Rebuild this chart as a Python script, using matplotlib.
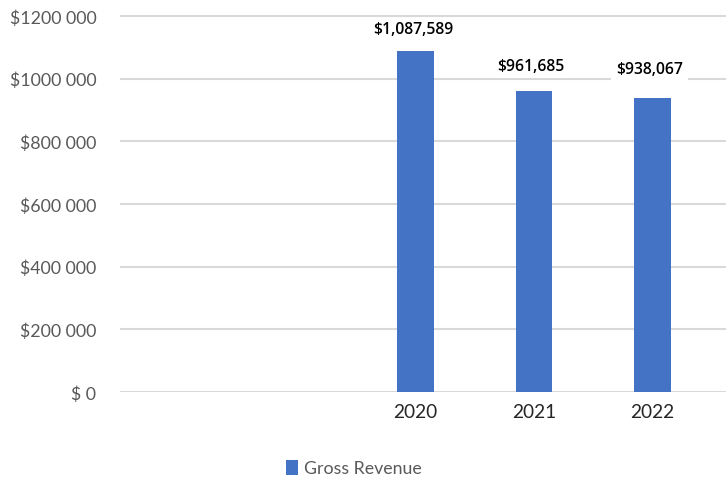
import matplotlib.pyplot as plt
import numpy as np

# gross revenue per year, two leading empty category slots
years = ["", "", "2020", "2021", "2022"]
revenue = [np.nan, np.nan, 1087589, 961685, 938067]
value_labels = ["", "", "$1,087,589", "$961,685", "$938,067"]
ytick_vals = [0, 200000, 400000, 600000, 800000, 1000000, 1200000]
ytick_text = ["$ 0", "$200 000", "$400 000", "$600 000", "$800 000", "$1000 000", "$1200 000"]

BAR_COLOR = "#4472C4"
GRID_COLOR = "#D9D9D9"
TICK_GRAY = "#595959"

fig = plt.figure(figsize=(7.26, 4.81), dpi=100)
W, H = 726, 481
px_per_val = 376 / 1200000
top_val = 1210000
top_px = 393 - top_val * px_per_val
ax = fig.add_axes([120 / W, 1 - 393 / H, 1 - 120 / W, (393 - top_px) / H])

x = np.arange(len(years))
bars = ax.bar(x, revenue, width=0.31, color=BAR_COLOR, zorder=3)

ax.set_xlim(-0.5, -0.5 + 606 / 118.3)
ax.set_ylim(0, top_val)

for v in ytick_vals:
    ax.axhline(v, color=GRID_COLOR, lw=1.5, zorder=1)

for sp in ax.spines.values():
    sp.set_visible(False)

ax.set_yticks(ytick_vals)
ax.set_yticklabels(ytick_text, fontsize=12.8, color=TICK_GRAY, family="Lato")
ax.set_xticks(x)
ax.set_xticklabels(years, fontsize=13.8, color="#262626", family="Lato")
ax.tick_params(axis="y", length=0, pad=17)
ax.tick_params(axis="x", length=0, pad=8)

# value labels on white boxes above each bar
offsets = [0, 0, 16, 18, 21]
pads = [0, 0, 0.12, 0.3, 0.3]
for xi, val, lab, off, pd in zip(x, revenue, value_labels, offsets, pads):
    if not lab:
        continue
    ax.annotate(lab, (xi, val), xytext=(-2, off), textcoords="offset points",
                ha="center", va="center", fontsize=11.3, fontweight="semibold",
                family="Open Sans", color="black", zorder=4,
                bbox=dict(boxstyle=f"square,pad={pd}", fc="white", ec="none"))

fig.legend([bars], ["Gross Revenue"], loc="center", bbox_to_anchor=(354 / W, 1 - 469 / H),
           frameon=False, handlelength=0.7, handleheight=0.9, handletextpad=0.35,
           prop={"family": "Lato", "size": 12.8}, labelcolor=TICK_GRAY)

fig.savefig("out.png", dpi=100)
